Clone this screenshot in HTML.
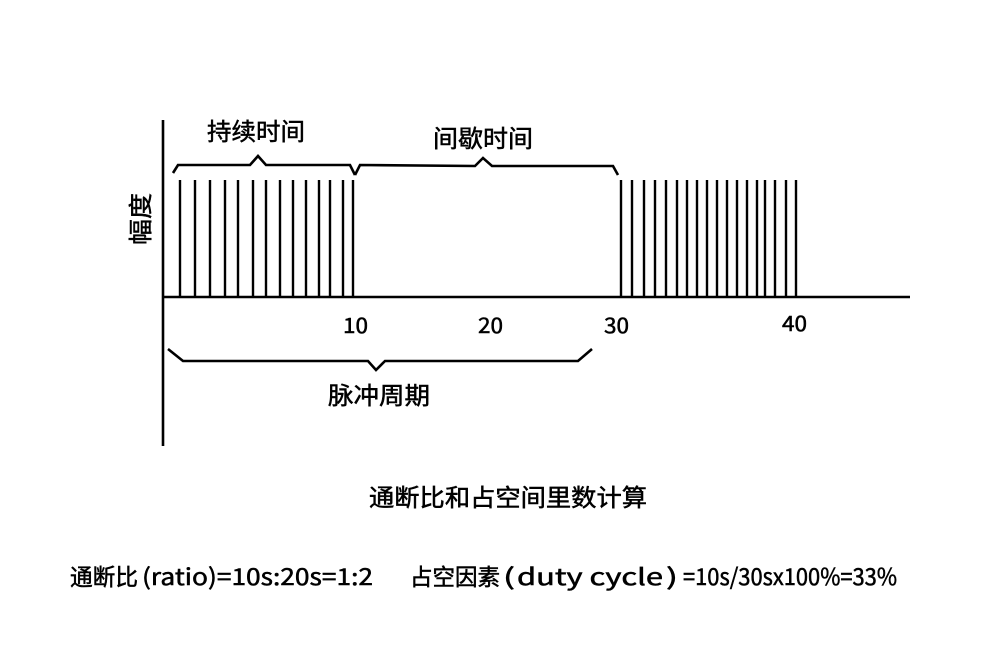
<!DOCTYPE html>
<html><head><meta charset="utf-8"><style>html,body{margin:0;padding:0;background:#fff}svg{display:block}</style></head>
<body>
<svg width="982" height="664" viewBox="0 0 982 664" xmlns="http://www.w3.org/2000/svg">
<g stroke="#000" fill="none" stroke-width="2.6">
<line x1="163" y1="120" x2="163" y2="446"/>
<line x1="162" y1="297" x2="910" y2="297"/>
<g stroke-width="2.4">
<path d="M180 297V180M195 297V180M210 297V180M225 297V180M238 297V180M253 297V180M266 297V180M280 297V180M293 297V180M306 297V180M319 297V180M330 297V180M343 297V180M353 297V180"/>
<path d="M621 297V180M632 297V180M644 297V180M655 297V180M666 297V180M677 297V180M687 297V180M697 297V180M707 297V180M717 297V180M727 297V180M737 297V180M747 297V180M757 297V180M765 297V180M775 297V180M786 297V180M796 297V180"/>
</g>
<path d="M173 173 L178 165 L250 165 L258 156 L266 165 L350 165 L355 175"/>
<path d="M355 175 L360 165 L475 166 L483 158 L492 166 L613 166 L618 175"/>
<path d="M168 349 L183 361 L368 361 L376 370 L385 361 L578 361 L592 349"/>
</g>
<g font-family="'Noto Sans CJK SC','WenQuanYi Zen Hei',sans-serif" fill="#000" stroke="#000" stroke-width="0.5" lengthAdjust="spacingAndGlyphs">
<text x="207" y="140" font-size="24" textLength="98" lengthAdjust="spacingAndGlyphs">持续时间</text>
<text x="433" y="147" font-size="24" textLength="100" lengthAdjust="spacingAndGlyphs">间歇时间</text>
<text transform="translate(149,245) rotate(-90)" font-size="24" textLength="52" lengthAdjust="spacingAndGlyphs">幅度</text>
<text x="343" y="333" font-size="21" textLength="25" lengthAdjust="spacingAndGlyphs">10</text>
<text x="478" y="333" font-size="21" textLength="25" lengthAdjust="spacingAndGlyphs">20</text>
<text x="604" y="333" font-size="21" textLength="25" lengthAdjust="spacingAndGlyphs">30</text>
<text x="782" y="331" font-size="21" textLength="25" lengthAdjust="spacingAndGlyphs">40</text>
<text x="328" y="404" font-size="24" textLength="102" lengthAdjust="spacingAndGlyphs">脉冲周期</text>
<text x="369" y="506" font-size="24" textLength="278" lengthAdjust="spacingAndGlyphs">通断比和占空间里数计算</text>
<g font-size="23">
<text x="70" y="585" textLength="68" lengthAdjust="spacingAndGlyphs">通断比</text>
<text x="142" y="585" textLength="231" lengthAdjust="spacingAndGlyphs">(ratio)=10s:20s=1:2</text>
<text x="410" y="585" textLength="90" lengthAdjust="spacingAndGlyphs">占空因素</text>
<text x="503" y="585" textLength="12" lengthAdjust="spacingAndGlyphs">(</text>
<text x="517" y="585" textLength="146" lengthAdjust="spacingAndGlyphs">duty cycle</text>
<text x="666" y="585" textLength="12" lengthAdjust="spacingAndGlyphs">)</text>
<text x="683" y="585" textLength="214" lengthAdjust="spacingAndGlyphs">=10s/30sx100%=33%</text>
</g>
</g>
</svg>
</body></html>
